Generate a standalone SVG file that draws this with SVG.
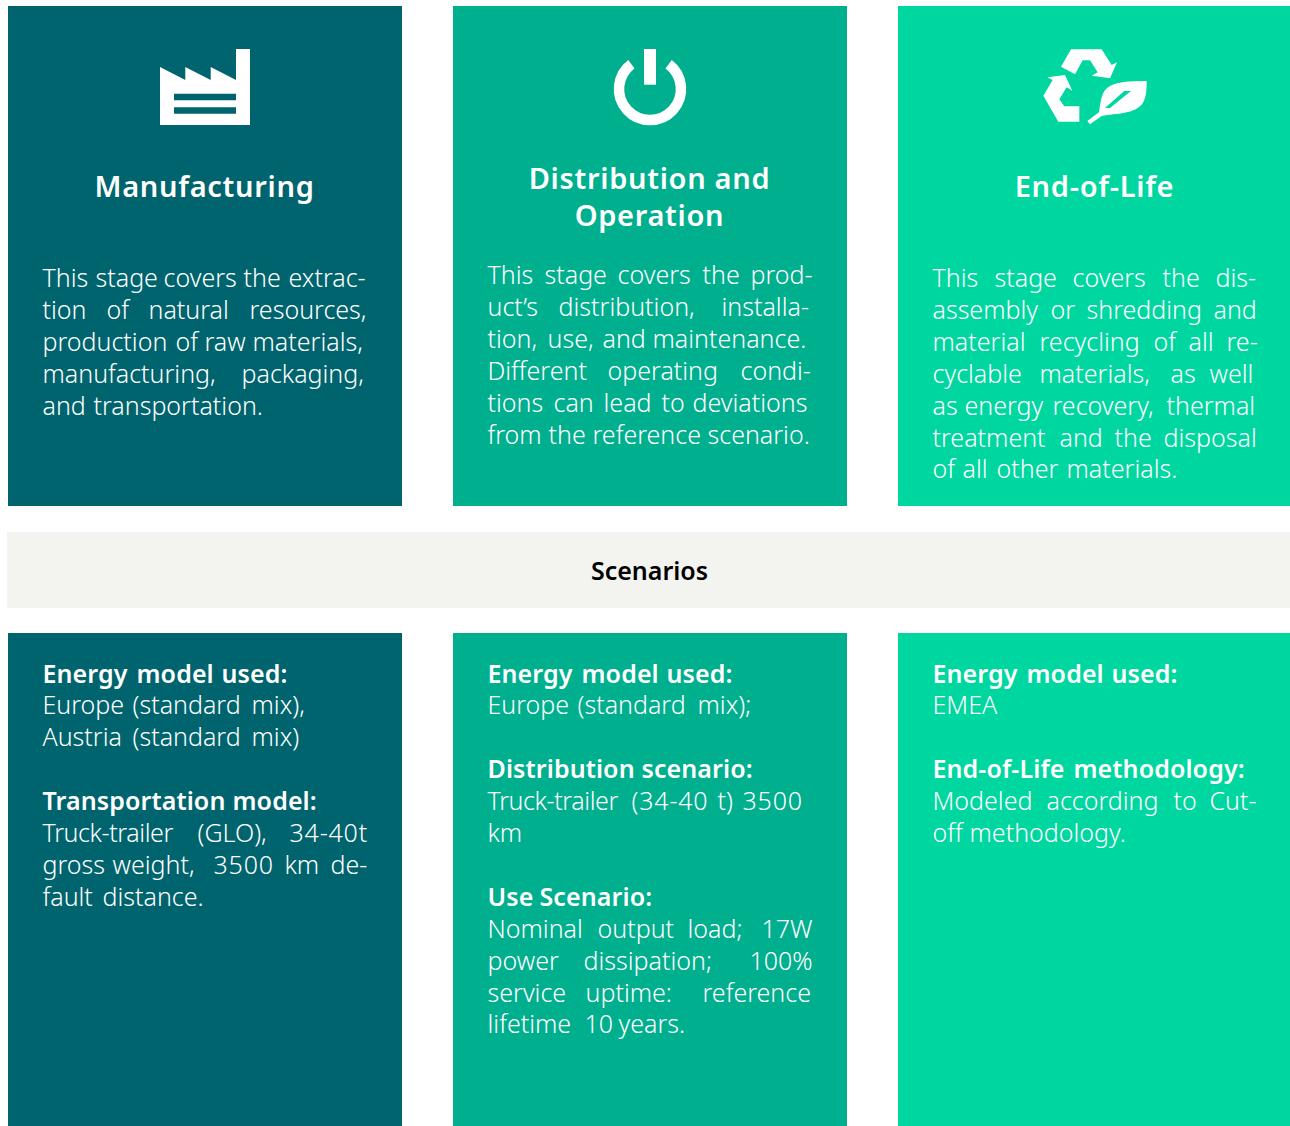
<svg xmlns="http://www.w3.org/2000/svg" width="1290" height="1126" viewBox="0 0 1290 1126">
<style>
text{font-family:"Noto Sans","Open Sans",sans-serif;fill:#fff;font-size:25px;font-weight:350;letter-spacing:0;transform:translate(-.5px,-.5px)}
.b{font-weight:600;letter-spacing:.1px}
.h{font-weight:600;font-size:29px;text-anchor:middle;letter-spacing:.7px}
.s{font-weight:600;font-size:25px;fill:#000;text-anchor:middle;letter-spacing:0}
.n{letter-spacing:.8px}
.t{letter-spacing:-.4px}
.c1{fill:#00646e}.c2{fill:#00af8e}.c3{fill:#00d7a0}
</style>
<rect width="1290" height="1126" fill="#fff"/>
<g id="manufacturing">
<rect class="c1" x="8" y="6" width="394" height="500"/>
<path fill="#fff" fill-rule="evenodd" d="M160 67L185.300 80V67L210.700 80V67L236 80V49H250V125H160ZM174 93.700V100.300H236V93.700ZM174 107.300V113.700H236V107.300Z"/>
<text class="h" x="205" y="197">Manufacturing</text>
<text y="287"><tspan x="43">This </tspan><tspan x="96">stage </tspan><tspan x="164">covers </tspan><tspan x="244">the </tspan><tspan x="289">extrac-</tspan></text>
<text y="319"><tspan x="43">tion </tspan><tspan x="107">of </tspan><tspan x="149">natural </tspan><tspan x="250">resources,</tspan></text>
<text y="351"><tspan x="43">production </tspan><tspan x="176">of </tspan><tspan x="205">raw </tspan><tspan x="253">materials,</tspan></text>
<text y="383"><tspan x="43">manufacturing, </tspan><tspan x="242">packaging,</tspan></text>
<text y="415"><tspan x="43">and </tspan><tspan x="94">transportation.</tspan></text>
</g>
<g id="distribution">
<rect class="c2" x="453" y="6" width="394" height="500"/>
<rect x="644" y="49" width="12" height="35.700" fill="#fff"/>
<path d="M631.400 64.200A31 31 0 1 0 668.600 64.200" fill="none" stroke="#fff" stroke-width="10.500"/>
<text class="h" x="650" y="189">Distribution and</text>
<text class="h" x="650" y="226">Operation</text>
<text y="284"><tspan x="488">This </tspan><tspan x="545">stage </tspan><tspan x="618">covers </tspan><tspan x="703">the </tspan><tspan x="751">prod-</tspan></text>
<text y="316"><tspan x="488">uct’s </tspan><tspan x="559">distribution, </tspan><tspan x="722">installa-</tspan></text>
<text y="348"><tspan x="488">tion, </tspan><tspan x="548">use, </tspan><tspan x="603">and </tspan><tspan x="653">maintenance.</tspan></text>
<text y="380"><tspan x="488">Different </tspan><tspan x="608">operating </tspan><tspan x="741">condi-</tspan></text>
<text y="412"><tspan x="488">tions </tspan><tspan x="554">can </tspan><tspan x="604">lead </tspan><tspan x="662">to </tspan><tspan x="693">deviations</tspan></text>
<text y="444"><tspan x="488">from </tspan><tspan x="549">the </tspan><tspan x="593">reference </tspan><tspan x="708">scenario.</tspan></text>
</g>
<g id="end-of-life">
<rect class="c3" x="898" y="6" width="392" height="500"/>
<g transform="translate(1030 35) scale(.3333)" fill="#fff">
<path d="M123 43H215L245 90L261 82L240 130L185 122L203 112L180 76H158L135 118L93 95Z"/>
<path d="M52 127L105 120L127 167L110 157L88 193L103 214H148V260H85L40 182L68 135Z"/>
<path fill-rule="evenodd" d="M350 138C300 138 255 140 232 158C212 175 212 205 207 232L172 258L180 268L215 243C260 235 315 238 338 205C350 185 350 160 350 138ZM225 219L283 168H303L240 219Z"/>
</g>
<text class="h" x="1095" y="197">End-of-Life</text>
<text y="287"><tspan x="933">This </tspan><tspan x="995">stage </tspan><tspan x="1073">covers </tspan><tspan x="1163">the </tspan><tspan x="1216">dis-</tspan></text>
<text y="319"><tspan x="933">assembly </tspan><tspan x="1051">or </tspan><tspan x="1087">shredding </tspan><tspan x="1214">and</tspan></text>
<text y="351"><tspan x="933">material </tspan><tspan x="1040">recycling </tspan><tspan x="1154">of </tspan><tspan x="1189">all </tspan><tspan x="1227">re-</tspan></text>
<text y="383"><tspan x="933">cyclable </tspan><tspan x="1040">materials, </tspan><tspan x="1171">as </tspan><tspan x="1210">well</tspan></text>
<text y="415"><tspan x="933">as </tspan><tspan x="965">energy </tspan><tspan x="1053">recovery, </tspan><tspan x="1167">thermal</tspan></text>
<text y="447"><tspan x="933">treatment </tspan><tspan x="1060">and </tspan><tspan x="1115">the </tspan><tspan x="1164">disposal</tspan></text>
<text y="478"><tspan x="933">of </tspan><tspan x="963">all </tspan><tspan x="997">other </tspan><tspan x="1067">materials.</tspan></text>
</g>
<g id="scenarios">
<rect x="7" y="532" width="1283" height="76" fill="#f3f3ef"/>
<text class="s" x="650" y="580">Scenarios</text>
</g>
<g id="scenario-manufacturing">
<rect class="c1" x="8" y="633" width="394" height="493"/>
<text class="b" y="683"><tspan x="43">Energy </tspan><tspan x="137">model </tspan><tspan x="222">used:</tspan></text>
<text y="714"><tspan x="43">Europe </tspan><tspan x="133">(standard </tspan><tspan x="252">mix),</tspan></text>
<text y="746"><tspan x="43">Austria </tspan><tspan x="133">(standard </tspan><tspan x="252">mix)</tspan></text>
<text class="b" y="810"><tspan x="43">Transportation </tspan><tspan x="233">model:</tspan></text>
<text y="842"><tspan x="43" class="t">Truck-trailer </tspan><tspan x="198">(GLO), </tspan><tspan x="290" class="n">34-40t</tspan></text>
<text y="874"><tspan x="43">gross </tspan><tspan x="113">weight, </tspan><tspan x="214" class="n">3500 </tspan><tspan x="285">km </tspan><tspan x="331">de-</tspan></text>
<text y="906"><tspan x="43">fault </tspan><tspan x="103">distance.</tspan></text>
</g>
<g id="scenario-distribution">
<rect class="c2" x="453" y="633" width="394" height="493"/>
<text class="b" y="683"><tspan x="488">Energy </tspan><tspan x="582">model </tspan><tspan x="667">used:</tspan></text>
<text y="714"><tspan x="488">Europe </tspan><tspan x="578">(standard </tspan><tspan x="698">mix);</tspan></text>
<text class="b" y="778"><tspan x="488">Distribution </tspan><tspan x="642">scenario:</tspan></text>
<text y="810"><tspan x="488" class="t">Truck-trailer </tspan><tspan x="632" class="n">(34-40 </tspan><tspan x="718">t) </tspan><tspan x="743" class="n">3500</tspan></text>
<text y="842"><tspan x="488">km</tspan></text>
<text class="b" y="906"><tspan x="488">Use </tspan><tspan x="540">Scenario:</tspan></text>
<text y="938"><tspan x="488">Nominal </tspan><tspan x="598">output </tspan><tspan x="688">load; </tspan><tspan x="762">17W</tspan></text>
<text y="970"><tspan x="488">power </tspan><tspan x="584">dissipation; </tspan><tspan x="750">100%</tspan></text>
<text y="1002"><tspan x="488">service </tspan><tspan x="586">uptime: </tspan><tspan x="703">reference</tspan></text>
<text y="1033"><tspan x="488">lifetime </tspan><tspan x="585">10 </tspan><tspan x="619">years.</tspan></text>
</g>
<g id="scenario-end-of-life">
<rect class="c3" x="898" y="633" width="392" height="493"/>
<text class="b" y="683"><tspan x="933">Energy </tspan><tspan x="1027">model </tspan><tspan x="1112">used:</tspan></text>
<text y="714"><tspan x="933">EMEA</tspan></text>
<text class="b" y="778"><tspan x="933">End-of-Life </tspan><tspan x="1074">methodology:</tspan></text>
<text y="810"><tspan x="933">Modeled </tspan><tspan x="1047">according </tspan><tspan x="1174">to </tspan><tspan x="1210">Cut-</tspan></text>
<text y="842"><tspan x="933">off </tspan><tspan x="970">methodology.</tspan></text>
</g>
</svg>
